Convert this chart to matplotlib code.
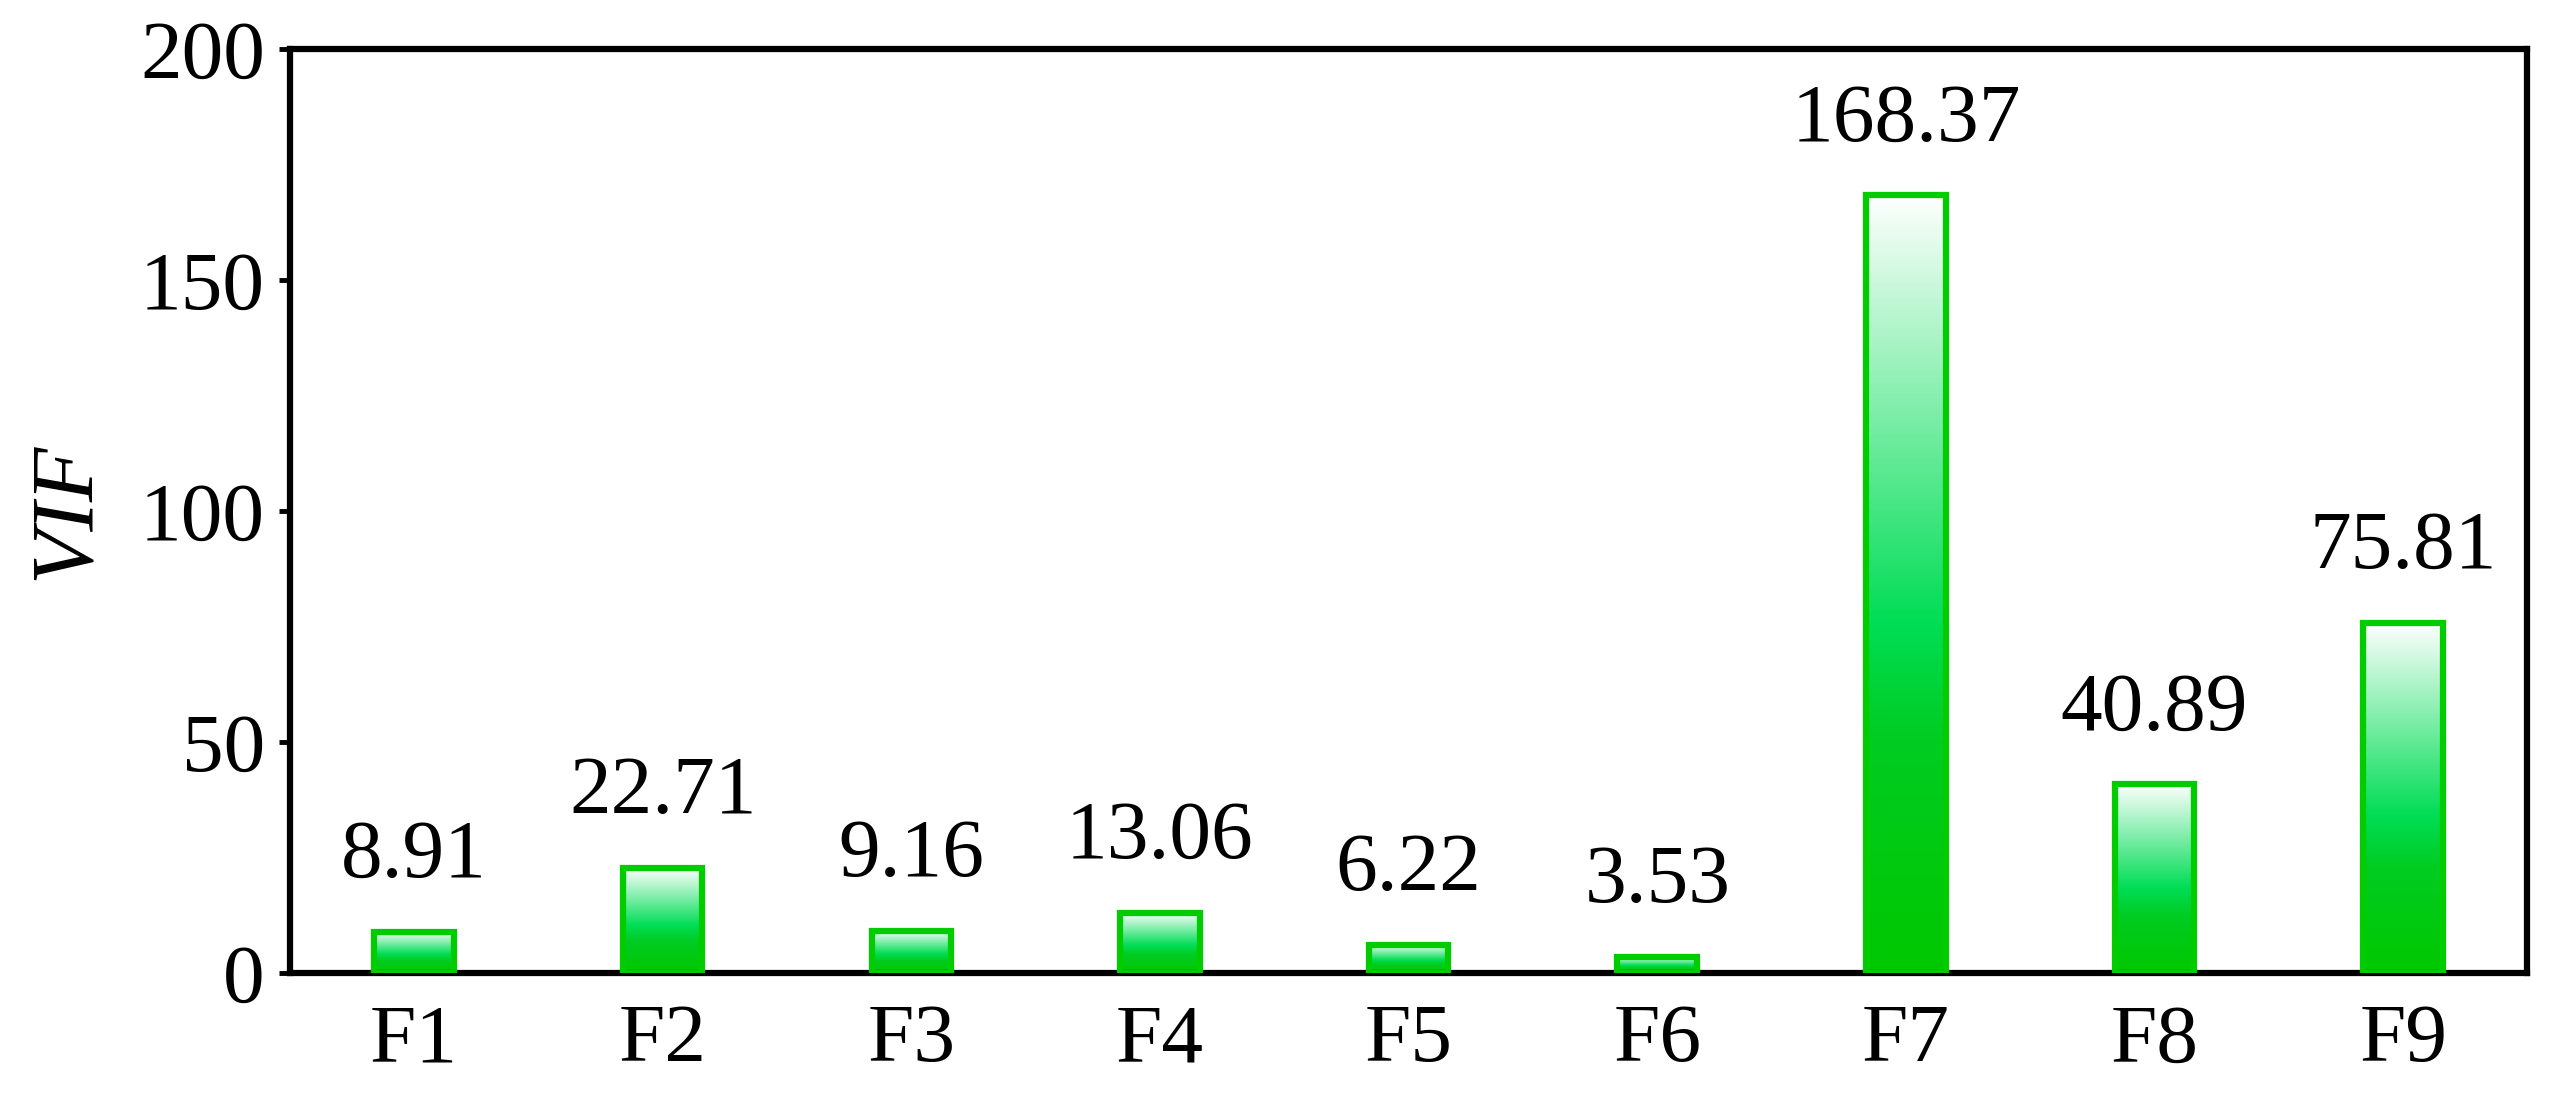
import matplotlib
matplotlib.use("Agg")
import matplotlib.pyplot as plt
import numpy as np
from matplotlib.colors import LinearSegmentedColormap
from matplotlib.patches import Rectangle

categories = ["F1", "F2", "F3", "F4", "F5", "F6", "F7", "F8", "F9"]
values = [8.91, 22.71, 9.16, 13.06, 6.22, 3.53, 168.37, 40.89, 75.81]

plt.rcParams['font.family'] = ['Liberation Serif', 'DejaVu Serif']
fig = plt.figure(figsize=(25.53, 11.2), dpi=100)
ax = fig.add_axes([0.1135, 0.131, 0.8765, 0.825])

cmap = LinearSegmentedColormap.from_list("g", [(0, "#00c800"), (0.3, "#00cc22"), (0.45, "#00dd55"), (1.0, "#ffffff")])
grad = np.linspace(0, 1, 256).reshape(-1, 1)
w = 0.32
x = np.arange(len(categories))
for xi, v in zip(x, values):
    im = ax.imshow(grad, cmap=cmap, origin="lower", aspect="auto",
                   extent=[xi - w/2, xi + w/2, 0, v], zorder=2)
    r = Rectangle((xi - w/2, 0), w, v, facecolor="none", edgecolor="#00cc00", linewidth=4.5, zorder=3)
    ax.add_patch(r)
    im.set_clip_path(r)
    ax.text(xi, v + 8, f"{v:.2f}", ha="center", va="bottom", fontsize=60)

ax.set_xlim(-0.5, len(categories) - 0.5)
ax.set_ylim(0, 200)
ax.set_xticks(x)
ax.set_xticklabels(categories)
ax.set_yticks([0, 50, 100, 150, 200])
ax.tick_params(labelsize=60, width=3.5, length=8, direction="out", pad=10)
ax.tick_params(axis="x", length=0, pad=22)
ax.set_ylabel("VIF", fontsize=64, style="italic", labelpad=24)
for s in ax.spines.values():
    s.set_linewidth(4.5)
fig.savefig("out.png", dpi=100)
